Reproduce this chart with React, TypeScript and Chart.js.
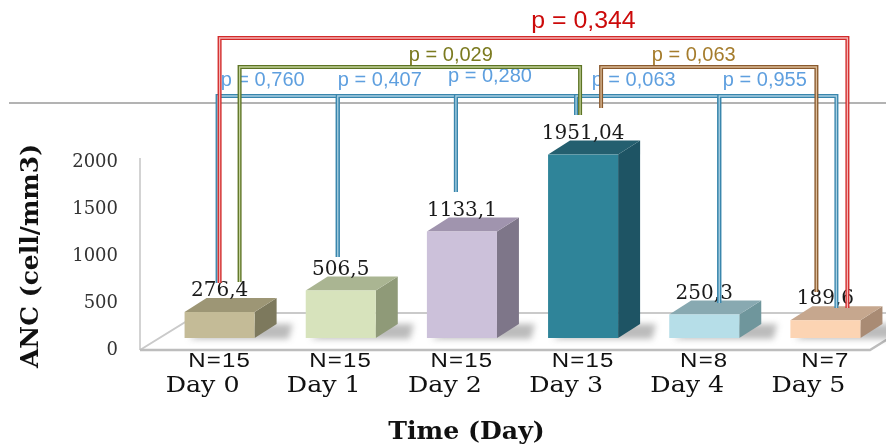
import React, { useEffect, useRef } from "react";
import { Chart, registerables } from "chart.js";

Chart.register(...registerables);

// ---------- data ----------
const categories = ["Day 0", "Day 1", "Day 2", "Day 3", "Day 4", "Day 5"];
const sampleSizes = ["N=15", "N=15", "N=15", "N=15", "N=8", "N=7"];
const ancValues = [276.4, 506.5, 1133.1, 1951.04, 250.3, 189.6];
const valueLabels = ["276,4", "506,5", "1133,1", "1951,04", "250,3", "189,6"];
const yMin = 0;
const yMax = 2000;
const yStep = 500;
const pFrom = [0, 0, 3, 0, 1, 2, 3, 4];
const pTo = [5, 3, 5, 1, 2, 3, 4, 5];
const pLabels = [
  "p = 0,344",
  "p = 0,029",
  "p = 0,063",
  "p = 0,760",
  "p = 0,407",
  "p = 0,280",
  "p = 0,063",
  "p = 0,955",
];

// ---------- styles ----------
const SERIF = "'DejaVu Serif', serif";
const SANS = "'Liberation Sans', Arial, sans-serif";
const frontColors = ["#c4bb97", "#d7e3bc", "#ccc1da", "#2f8499", "#b6dee8", "#fcd4b3"];
const topColors = ["#9d9675", "#aab592", "#a094ae", "#245f6f", "#88a9b1", "#c6a78e"];
const sideColors = ["#7d795d", "#8f9a78", "#7e7689", "#1e5464", "#6f969c", "#a98b74"];
const DEPTH_X = 22;
const DEPTH_Y = 14;
const LIFT = 12;

type BrStyle = {
  color: string;
  inner: string;
  textColor: string;
  font: string;
  sx: number;
  top: number;
  dxA: number;
  dxB: number;
  endA: number;
  endB: number;
  ldx: number;
  ly: number;
};
const RED = { color: "#d22a2a", inner: "#f4b4b4", textColor: "#cc0a0a", font: `23px ${SANS}`, sx: 1.08 };
const OLIVE = { color: "#5d7424", inner: "#c3d29a", textColor: "#7b7a1f", font: `20px ${SANS}`, sx: 1 };
const BROWN = { color: "#8a5a2e", inner: "#dcbc98", textColor: "#a57c2c", font: `20px ${SANS}`, sx: 1 };
const BLUE = { color: "#3a86ad", inner: "#a9d0e2", textColor: "#5e9fdf", font: `20px ${SANS}`, sx: 1 };
const bracketStyles: BrStyle[] = [
  { ...RED, top: 38, dxA: 0, dxB: 22, endA: 283, endB: 308, ldx: 50, ly: 22 },
  { ...OLIVE, top: 67, dxA: 20, dxB: -3, endA: 282, endB: 115, ldx: 41, ly: 55 },
  { ...BROWN, top: 67, dxA: 18, dxB: -9, endA: 108, endB: 292, ldx: -15, ly: 55 },
  { ...BLUE, top: 96, dxA: -2, dxB: -3, endA: 283, endB: 257, ldx: -15, ly: 80 },
  { ...BLUE, top: 96, dxA: -3, dxB: -6, endA: 257, endB: 192, ldx: -17, ly: 80 },
  { ...BLUE, top: 96, dxA: -6, dxB: -7, endA: 192, endB: 115, ldx: -26, ly: 76 },
  { ...BLUE, top: 96, dxA: -7, dxB: 15, endA: 115, endB: 303, ldx: -14, ly: 80 },
  { ...BLUE, top: 96, dxA: 15, dxB: 11, endA: 303, endB: 308, ldx: -13, ly: 80 },
];
const bracketDrawOrder = [3, 4, 5, 6, 7, 2, 1, 0];

function txt(
  ctx: CanvasRenderingContext2D,
  s: string,
  x: number,
  y: number,
  font: string,
  color: string,
  align: CanvasTextAlign = "center",
  baseline: CanvasTextBaseline = "middle",
  sx = 1,
  ls = "0px"
) {
  ctx.save();
  ctx.font = font;
  ctx.fillStyle = color;
  ctx.textAlign = align;
  ctx.textBaseline = baseline;
  (ctx as any).letterSpacing = ls;
  ctx.translate(x, y);
  ctx.scale(sx, 1);
  ctx.fillText(s, 0, 0);
  ctx.restore();
}

function poly(ctx: CanvasRenderingContext2D, pts: number[][], fill: string) {
  ctx.beginPath();
  ctx.moveTo(pts[0][0], pts[0][1]);
  for (let i = 1; i < pts.length; i++) ctx.lineTo(pts[i][0], pts[i][1]);
  ctx.closePath();
  ctx.fillStyle = fill;
  ctx.fill();
}

const bar3dPlugin = {
  id: "bar3d",
  beforeDatasetsDraw(chart: any) {
    const ctx: CanvasRenderingContext2D = chart.ctx;
    const { left } = chart.chartArea;
    const yS = chart.scales.y;
    const y0 = yS.getPixelForValue(0);
    const W = chart.width;
    ctx.save();
    // back wall left edge
    ctx.strokeStyle = "#c4c4c4";
    ctx.lineWidth = 1.5;
    ctx.beginPath();
    ctx.moveTo(left - 19, yS.getPixelForValue(yMax) - 4);
    ctx.lineTo(left - 19, y0);
    ctx.stroke();
    // floor
    ctx.strokeStyle = "#cacaca";
    ctx.lineWidth = 2;
    ctx.beginPath();
    ctx.moveTo(left - 19, y0);
    ctx.lineTo(left + 41, y0 - 37);
    ctx.lineTo(W + 10, y0 - 37);
    ctx.stroke();
    ctx.strokeStyle = "#bdbdbd";
    ctx.lineWidth = 2.5;
    ctx.beginPath();
    ctx.moveTo(left - 19, y0);
    ctx.lineTo(left + 711, y0);
    ctx.lineTo(left + 771, y0 - 37);
    ctx.stroke();
    ctx.restore();

    // shadows
    const meta = chart.getDatasetMeta(0);
    meta.data.forEach((el: any) => {
      const p = el.getProps(["x", "y", "base", "width"], true);
      const x1 = p.x - p.width / 2;
      const x2 = p.x + p.width / 2;
      const b = p.base - LIFT;
      ctx.save();
      ctx.filter = "blur(3px)";
      poly(
        ctx,
        [
          [x1 + 4, b + 1],
          [x2 + DEPTH_X + 12, b + 1],
          [x2 + DEPTH_X + 16, b - DEPTH_Y],
          [x1 + DEPTH_X + 6, b - DEPTH_Y],
        ],
        "rgba(60,60,60,0.35)"
      );
      ctx.restore();
    });
  },
  afterDatasetsDraw(chart: any) {
    const ctx: CanvasRenderingContext2D = chart.ctx;
    const meta = chart.getDatasetMeta(0);
    const xs: number[] = [];
    ctx.save();
    meta.data.forEach((el: any, i: number) => {
      const p = el.getProps(["x", "y", "base", "width"], true);
      xs.push(p.x);
      const x1 = p.x - p.width / 2;
      const x2 = p.x + p.width / 2;
      const t = p.y - LIFT;
      const b = p.base - LIFT;
      poly(ctx, [[x2, t], [x2 + DEPTH_X, t - DEPTH_Y], [x2 + DEPTH_X, b - DEPTH_Y], [x2, b]], sideColors[i]);
      poly(ctx, [[x1, t], [x1 + DEPTH_X, t - DEPTH_Y], [x2 + DEPTH_X, t - DEPTH_Y], [x2, t]], topColors[i]);
      ctx.fillStyle = frontColors[i];
      ctx.fillRect(x1, t, x2 - x1, b - t);
      txt(ctx, valueLabels[i], p.x, t - 21, `20px ${SERIF}`, "#1a1a1a");
    });

    // category labels
    const y0 = chart.scales.y.getPixelForValue(0);
    xs.forEach((x, i) => {
      txt(ctx, sampleSizes[i], x, y0 + 17, `20px ${SANS}`, "#111", "center", "alphabetic", 1.2, "1px");
      txt(ctx, categories[i], x - 17, y0 + 42, `22px ${SERIF}`, "#111", "center", "alphabetic", 1.15);
    });
    const { left, right } = chart.chartArea;
    txt(ctx, "Time (Day)", (left + right) / 2 - 56, y0 + 89, `bold 24px ${SERIF}`, "#111", "center", "alphabetic", 1.05);

    // reference line
    ctx.strokeStyle = "#9a9a9a";
    ctx.lineWidth = 1.5;
    ctx.beginPath();
    ctx.moveTo(9, 103);
    ctx.lineTo(chart.width, 103);
    ctx.stroke();

    // p labels
    pLabels.forEach((lab, k) => {
      const s = bracketStyles[k];
      const xa = xs[pFrom[k]] + s.dxA;
      const xb = xs[pTo[k]] + s.dxB;
      txt(ctx, lab, (xa + xb) / 2 + s.ldx, s.ly, s.font, s.textColor, "center", "middle", s.sx);
    });

    // brackets
    bracketDrawOrder.forEach((k) => {
      const s = bracketStyles[k];
      const xa = xs[pFrom[k]] + s.dxA;
      const xb = xs[pTo[k]] + s.dxB;
      ctx.lineJoin = "miter";
      ctx.beginPath();
      ctx.moveTo(xa, s.endA);
      ctx.lineTo(xa, s.top);
      ctx.lineTo(xb, s.top);
      ctx.lineTo(xb, s.endB);
      ctx.strokeStyle = s.color;
      ctx.lineWidth = 4;
      ctx.stroke();
      ctx.strokeStyle = s.inner;
      ctx.lineWidth = 1.3;
      ctx.stroke();
    });
    ctx.restore();
  },
};

export default function App() {
  const ref = useRef<HTMLCanvasElement | null>(null);
  useEffect(() => {
    if (!ref.current) return;
    const chart = new Chart(ref.current, {
      type: "bar",
      data: {
        labels: categories,
        datasets: [
          {
            label: "ANC",
            data: ancValues,
            backgroundColor: "rgba(0,0,0,0)",
            borderWidth: 0,
            barPercentage: 0.578,
            categoryPercentage: 1,
          },
        ],
      },
      options: {
        animation: false,
        responsive: true,
        maintainAspectRatio: false,
        layout: { padding: { top: 162, bottom: 95, left: 0, right: 0 } },
        plugins: {
          legend: { display: false },
          tooltip: { enabled: false },
        },
        scales: {
          x: { display: false },
          y: {
            min: yMin,
            max: yMax,
            afterFit: (s: any) => {
              s.width = 159;
            },
            grid: { display: false, drawTicks: false },
            border: { display: false },
            ticks: {
              stepSize: yStep,
              padding: 41,
              color: "#333",
              font: { family: "'DejaVu Serif', serif", size: 18 },
              callback: (v: any) => String(v),
            },
            title: {
              display: true,
              text: "ANC (cell/mm3)",
              color: "#111",
              font: { family: "'DejaVu Serif', serif", size: 25, weight: "bold" },
              padding: { top: 16, bottom: 0 },
            },
          },
        },
      },
      plugins: [bar3dPlugin],
    });
    return () => chart.destroy();
  }, []);
  return (
    <div style={{ position: "absolute", left: 0, top: 0, width: 886, height: 445, background: "#fff" }}>
      <canvas ref={ref} />
    </div>
  );
}
